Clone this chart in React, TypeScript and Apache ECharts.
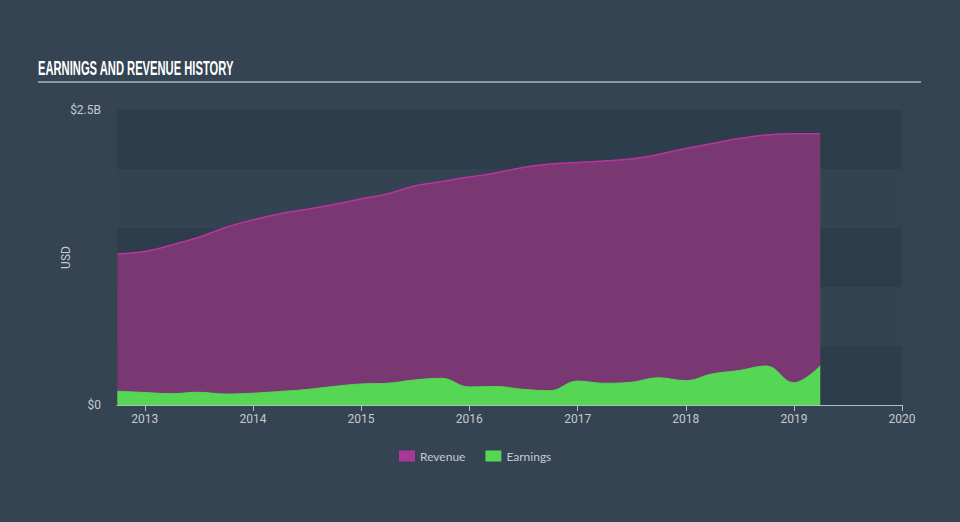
import React, { useEffect, useRef } from "react";
import * as echarts from "echarts";

const quarterDates: string[] = [
  "2012-09-30", "2012-12-31", "2013-03-31", "2013-06-30", "2013-09-30", "2013-12-31",
  "2014-03-31", "2014-06-30", "2014-09-30", "2014-12-31", "2015-03-31", "2015-06-30",
  "2015-09-30", "2015-12-31", "2016-03-31", "2016-06-30", "2016-09-30", "2016-12-31",
  "2017-03-31", "2017-06-30", "2017-09-30", "2017-12-31", "2018-03-31", "2018-06-30",
  "2018-09-30", "2018-12-31", "2019-03-31",
];

// USD billions
const revenue: number[] = [
  1.28, 1.301, 1.356, 1.419, 1.504, 1.568, 1.619, 1.657, 1.699, 1.746, 1.788, 1.856,
  1.894, 1.932, 1.966, 2.013, 2.042, 2.055, 2.068, 2.085, 2.123, 2.174, 2.216, 2.258,
  2.288, 2.299, 2.299,
];

const earnings: number[] = [
  0.116, 0.106, 0.096, 0.108, 0.093, 0.1, 0.114, 0.131, 0.157, 0.178, 0.184, 0.212,
  0.226, 0.153, 0.157, 0.133, 0.121, 0.203, 0.184, 0.192, 0.231, 0.206, 0.263, 0.292,
  0.331, 0.189, 0.333,
];

const yTickLabels: Record<string, string> = { "0": "$0", "2500000000": "$2.5B" };

const toTs = (d: string) => {
  const [y, m, day] = d.split("-").map(Number);
  return Date.UTC(y, m - 1, day);
};

export default function App() {
  const ref = useRef<HTMLDivElement>(null);

  useEffect(() => {
    document.body.style.margin = "0";
    document.body.style.background = "#344452";
    if (!ref.current) return;
    const chart = echarts.init(ref.current, undefined, { renderer: "svg" });
    const revData = quarterDates.map((d, i) => [toTs(d), revenue[i] * 1e9]);
    const earnData = quarterDates.map((d, i) => [toTs(d), earnings[i] * 1e9]);
    const labelColor = "#c5cad0";
    chart.setOption({
      animation: false,
      backgroundColor: "#344452",
      graphic: [
        {
          type: "text",
          x: 38,
          y: 68,
          scaleX: 0.56,
          style: {
            text: "EARNINGS AND REVENUE HISTORY",
            fill: "#ffffff",
            font: "bold 20px 'Liberation Sans', Arial, sans-serif",
            verticalAlign: "middle",
            align: "left",
          },
        },
        {
          type: "line",
          shape: { x1: 38, y1: 82, x2: 921, y2: 82 },
          style: { stroke: "#aeb5bc", lineWidth: 1.5 },
        },
      ],
      legend: {
        left: 394,
        top: 445,
        icon: "rect",
        itemWidth: 16,
        itemHeight: 11,
        itemGap: 20,
        textStyle: { color: labelColor, fontSize: 12, fontFamily: "Lato, sans-serif" },
        data: [
          { name: "Revenue", itemStyle: { color: "#a8399a" } },
          { name: "Earnings", itemStyle: { color: "#55d655" } },
        ],
      },
      grid: { left: 117, right: 58, top: 110, bottom: 117 },
      xAxis: {
        type: "time",
        min: Date.UTC(2012, 8, 29),
        max: Date.UTC(2020, 0, 1),
        minInterval: 365 * 24 * 3600 * 1000,
        splitLine: { show: false },
        axisLine: { show: true, lineStyle: { color: "#b4bcc4", width: 1 } },
        axisTick: { show: true, length: 6, lineStyle: { color: "#b4bcc4" } },
        axisLabel: {
          color: labelColor,
          fontSize: 12,
          fontFamily: "Roboto, sans-serif",
          formatter: "{yyyy}",
          showMinLabel: false,
          showMaxLabel: true,
        },
      },
      yAxis: {
        type: "value",
        min: 0,
        max: 2.5e9,
        interval: 0.5e9,
        name: "USD",
        nameLocation: "middle",
        nameGap: 45,
        nameMoveOverlap: false,
        nameTextStyle: { color: labelColor, fontSize: 12, fontFamily: "Roboto, sans-serif" },
        axisLine: { show: false },
        axisTick: { show: false },
        splitLine: { show: false },
        splitArea: { show: true, areaStyle: { color: ["#2e3d4b", "#334351"] } },
        axisLabel: {
          color: labelColor,
          fontSize: 12,
          fontFamily: "Roboto, sans-serif",
          margin: 16,
          formatter: (v: number) => yTickLabels[String(v)] ?? "",
        },
      },
      series: [
        {
          name: "Revenue",
          type: "line",
          data: revData,
          smooth: 0.4,
          symbol: "none",
          lineStyle: { color: "#b8349f", width: 1.5 },
          itemStyle: { color: "#a8399a" },
          areaStyle: { color: "#7a3873", opacity: 1 },
        },
        {
          name: "Earnings",
          type: "line",
          data: earnData,
          smooth: 0.4,
          symbol: "none",
          lineStyle: { color: "#55d655", width: 1 },
          itemStyle: { color: "#55d655" },
          areaStyle: { color: "#55d655", opacity: 1 },
        },
      ],
    });
    return () => chart.dispose();
  }, []);

  return <div ref={ref} style={{ width: 960, height: 522 }} />;
}
